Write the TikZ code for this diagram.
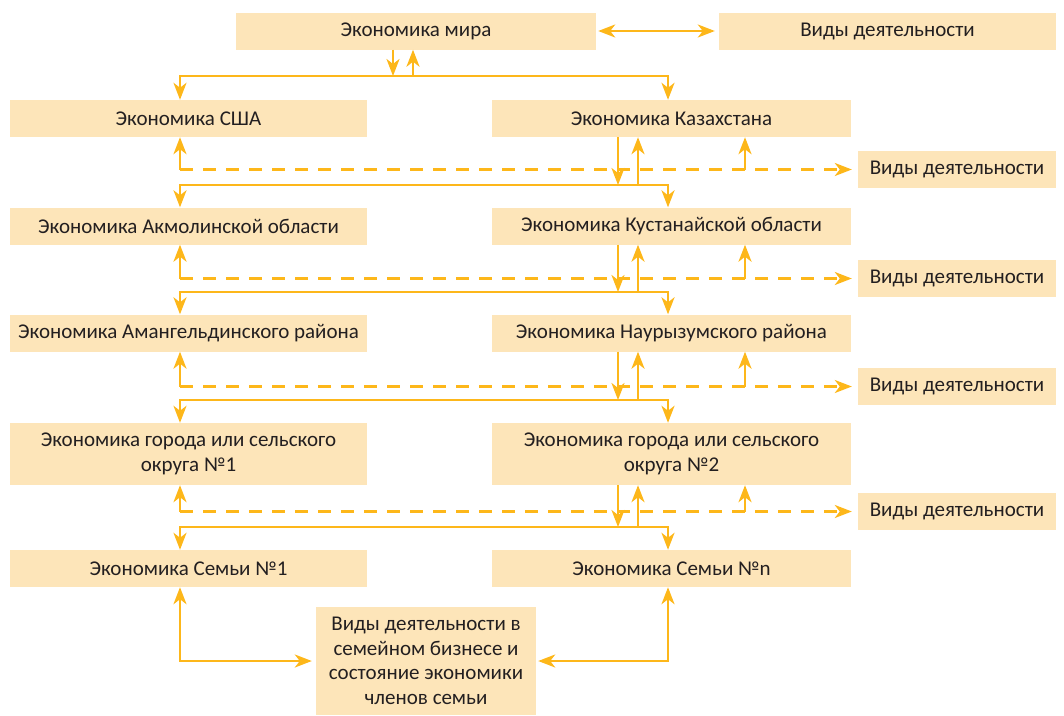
\documentclass[tikz,border=0pt]{standalone}
\usepackage{fontspec}
\setmainfont{Carlito}
\usetikzlibrary{arrows.meta}

\definecolor{boxfill}{HTML}{FDE5B9}
\definecolor{linkcol}{HTML}{FDB71A}
\definecolor{txtcol}{HTML}{231F20}

\tikzset{
  box/.style={fill=boxfill, text=txtcol, inner sep=0pt, align=center,
    minimum height=37pt, font=\fontsize{21}{24.5}\selectfont},
  link/.style={draw=linkcol, line width=2.5pt},
  dashlink/.style={link, dash pattern=on 13pt off 10pt},
}

\begin{document}
\begin{tikzpicture}[x=1pt, y=-1pt, >={Stealth[length=17pt,width=13pt,inset=5pt]}]
\useasboundingbox (0,0) rectangle (1064,715);

% boxes
\node[box, minimum width=360pt] (mir) at (416,31) {Экономика мира};
\node[box, minimum width=337pt] (vidtop) at (887.5,31) {Виды деятельности};

\node[box, minimum width=357pt] (usa) at (188.5,118.5) {Экономика США};
\node[box, minimum width=359pt] (kaz) at (671.5,118.5) {Экономика Казахстана};
\node[box, minimum width=357pt] (akm) at (188.5,226) {Экономика Акмолинской области};
\node[box, minimum width=359pt] (kus) at (671.5,226) {Экономика Кустанайской области};
\node[box, minimum width=357pt] (amg) at (188.5,333) {Экономика Амангельдинского района};
\node[box, minimum width=359pt] (nau) at (671.5,333) {Экономика Наурызумского района};
\node[box, minimum width=357pt, minimum height=62pt] (gor1) at (188.5,454) {Экономика города или сельского\\округа №1};
\node[box, minimum width=359pt, minimum height=62pt] (gor2) at (671.5,454) {Экономика города или сельского\\округа №2};
\node[box, minimum width=357pt] (sem1) at (188.5,568.5) {Экономика Семьи №1};
\node[box, minimum width=359pt] (semn) at (671.5,568.5) {Экономика Семьи №n};
\node[box, minimum width=220pt, minimum height=108pt] (biz) at (426,661)
  {Виды деятельности в\\семейном бизнесе и\\состояние экономики\\членов семьи};

\node[box, minimum width=198pt] (vid1) at (957,169.5) {Виды деятельности};
\node[box, minimum width=198pt] (vid2) at (957,278.5) {Виды деятельности};
\node[box, minimum width=198pt] (vid3) at (957,386.5) {Виды деятельности};
\node[box, minimum width=198pt] (vid4) at (957,511.5) {Виды деятельности};

% bus lines and columns
\coordinate (bus0) at (0,76);
\coordinate (bus1) at (0,185);
\coordinate (bus2) at (0,292);
\coordinate (bus3) at (0,400);
\coordinate (bus4) at (0,527);
\coordinate (xa) at (393,0);
\coordinate (xb) at (413,0);
\coordinate (xl) at (180,0);
\coordinate (xdn) at (618,0);
\coordinate (xup) at (638,0);
\coordinate (xr) at (668,0);
\coordinate (xv) at (745,0);

% top
\draw[link,<->,shorten <=2pt,shorten >=4pt] (mir.east) -- (vidtop.west);
\draw[link,->] (xa |- mir.south) -- (xa |- bus0);
\draw[link,->] (xb |- bus0) -- (xb |- mir.south);
\draw[link,<->] (xl |- usa.north) -- (xl |- bus0) -- (xr |- bus0) -- (xr |- kaz.north);

% usa / kaz -> akm / kus
\draw[link,->] (xdn |- kaz.south) -- (xdn |- bus1);
\draw[link,->] (xup |- bus1) -- (xup |- kaz.south);
\draw[link,<->] (xl |- akm.north) -- (xl |- bus1) -- (xr |- bus1) -- (xr |- kus.north);
\draw[dashlink,->,shorten >=6pt] (xl |- vid1.west) -- (vid1.west);
\draw[link,->] (xl |- vid1.west) -- (xl |- usa.south);
\draw[link,->] (xv |- vid1.west) -- (xv |- kaz.south);

% akm / kus -> amg / nau
\draw[link,->] (xdn |- kus.south) -- (xdn |- bus2);
\draw[link,->] (xup |- bus2) -- (xup |- kus.south);
\draw[link,<->] (xl |- amg.north) -- (xl |- bus2) -- (xr |- bus2) -- (xr |- nau.north);
\draw[dashlink,->,shorten >=6pt] (xl |- vid2.west) -- (vid2.west);
\draw[link,->] (xl |- vid2.west) -- (xl |- akm.south);
\draw[link,->] (xv |- vid2.west) -- (xv |- kus.south);

% amg / nau -> gor1 / gor2
\draw[link,->] (xdn |- nau.south) -- (xdn |- bus3);
\draw[link,->] (xup |- bus3) -- (xup |- nau.south);
\draw[link,<->] (xl |- gor1.north) -- (xl |- bus3) -- (xr |- bus3) -- (xr |- gor2.north);
\draw[dashlink,->,shorten >=6pt] (xl |- vid3.west) -- (vid3.west);
\draw[link,->] (xl |- vid3.west) -- (xl |- amg.south);
\draw[link,->] (xv |- vid3.west) -- (xv |- nau.south);

% gor1 / gor2 -> sem1 / semn
\draw[link,->] (xdn |- gor2.south) -- (xdn |- bus4);
\draw[link,->] (xup |- bus4) -- (xup |- gor2.south);
\draw[link,<->] (xl |- sem1.north) -- (xl |- bus4) -- (xr |- bus4) -- (xr |- semn.north);
\draw[dashlink,->,shorten >=6pt] (xl |- vid4.west) -- (vid4.west);
\draw[link,->] (xl |- vid4.west) -- (xl |- gor1.south);
\draw[link,->] (xv |- vid4.west) -- (xv |- gor2.south);

% family
\draw[link,<->,shorten >=4pt] (xl |- sem1.south) -- (xl |- biz.west) -- (biz.west);
\draw[link,<->,shorten >=2pt] (xr |- semn.south) -- (xr |- biz.east) -- (biz.east);

\end{tikzpicture}
\end{document}
